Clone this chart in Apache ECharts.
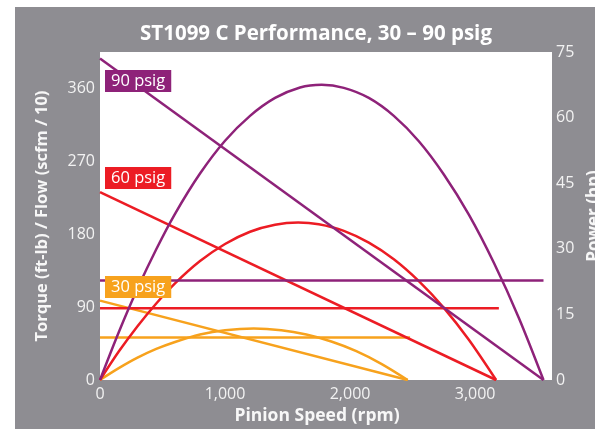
<!DOCTYPE html>
<html>
<head>
<meta charset="utf-8">
<script src="https://cdn.jsdelivr.net/npm/echarts@6/dist/echarts.min.js"></script>
<style>html,body{margin:0;padding:0;background:#fff;overflow:hidden;width:595px;height:429px}#c{width:595px;height:429px}</style>
</head>
<body>
<div id="c"></div>
<script>
// ---- data ----
const xTicks = [0, 1000, 2000, 3000];
const leftTicks = [0, 90, 180, 270, 360];
const rightTicks = [0, 15, 30, 45, 60, 75];

// torque lines (rpm, ft-lb)
const torque90Rpm = [0, 3547];
const torque90Val = [397, 0];
const torque60Rpm = [0, 3168];
const torque60Val = [232, 0];
const torque30Rpm = [0, 2461];
const torque30Val = [98, 0];

// flow lines (rpm, scfm/10)
const flow90Rpm = [0, 3547];
const flow90Val = [123, 123];
const flow60Rpm = [0, 3190];
const flow60Val = [88.5, 88.5];
const flow30Rpm = [0, 2480];
const flow30Val = [52.5, 52.5];

// power curves (rpm, hp)
const power90Rpm = [0, 150, 300, 450, 600, 800, 1000, 1200, 1400, 1600, 1773, 1950, 2150, 2350, 2550, 2750, 2950, 3150, 3350, 3547];
const power90Val = [0, 10.9, 20.9, 29.9, 38.0, 47.2, 54.7, 60.4, 64.5, 66.9, 67.5, 66.8, 64.5, 60.4, 54.6, 47.0, 37.8, 26.8, 14.2, 0];
const power60Rpm = [0, 150, 300, 450, 600, 800, 1000, 1200, 1400, 1585, 1750, 1950, 2150, 2350, 2550, 2750, 2950, 3168];
const power60Val = [0, 6.5, 12.3, 17.5, 22.1, 27.2, 31.1, 33.9, 35.5, 36.0, 35.6, 34.1, 31.4, 27.6, 22.6, 16.5, 9.2, 0];
const power30Rpm = [0, 150, 300, 450, 600, 800, 1000, 1230, 1450, 1650, 1850, 2050, 2250, 2461];
const power30Val = [0, 2.7, 5.1, 7.1, 8.7, 10.4, 11.4, 11.8, 11.4, 10.4, 8.8, 6.6, 3.7, 0];

const labels = ['90 psig', '60 psig', '30 psig'];
const PURPLE = '#8e2279', RED = '#ec1c24', ORANGE = '#f7a21d', GRAY = '#8e8d92';

const zip = (a, b) => a.map((v, i) => [v, b[i]]);
const line = (name, rpm, val, color, yIdx, smooth) => ({
  name, type: 'line', yAxisIndex: yIdx, data: zip(rpm, val), smooth: smooth ? 0.3 : false,
  showSymbol: false, symbol: 'none', lineStyle: { color, width: 2.5 }, z: 3, animation: false
});

const chart = echarts.init(document.getElementById('c'), null, { width: 595, height: 429 });
const tickFont = { color: '#f2f2f2', fontSize: 16, fontFamily: 'Open Sans' };
const nameFont = { color: '#f7f7f7', fontWeight: 'bold', fontFamily: 'Open Sans' };
const boxFont = '16.5px "Open Sans"';
const boxPad = [3, 6, 2, 6];

chart.setOption({
  animation: false,
  backgroundColor: '#fff',
  graphic: [
    { type: 'rect', left: 15, top: 7, shape: { width: 580, height: 422 }, style: { fill: GRAY }, z: -10 },
    { type: 'text', x: 316, y: 34, style: { text: 'ST1099 C Performance, 30 \u2013 90 psig', fill: '#fff', font: 'bold 20.5px "Open Sans"', align: 'center', verticalAlign: 'middle' }, z: 10 },
    { type: 'text', left: 105, top: 70, style: { text: labels[0], fill: '#fff', font: boxFont, backgroundColor: PURPLE, padding: boxPad }, z: 10 },
    { type: 'text', left: 105, top: 167, style: { text: labels[1], fill: '#fff', font: boxFont, backgroundColor: RED, padding: boxPad }, z: 10 },
    { type: 'text', left: 105, top: 276, style: { text: labels[2], fill: '#fff', font: boxFont, backgroundColor: ORANGE, padding: boxPad }, z: 10 }
  ],
  grid: { left: 100, top: 52, right: 43, bottom: 49, show: true, backgroundColor: '#fff', borderWidth: 0, outerBoundsMode: 'none', containLabel: false },
  xAxis: {
    type: 'value', min: 0, max: 3615, interval: 1000,
    name: 'Pinion Speed (rpm)', nameLocation: 'middle', nameGap: 27,
    nameTextStyle: Object.assign({ fontSize: 17.5, padding: [0, 18, 0, 0] }, nameFont),
    axisLine: { show: false }, axisTick: { show: false }, splitLine: { show: false },
    axisLabel: Object.assign({ margin: 6, formatter: v => xTicks.includes(v) ? v.toLocaleString('en-US') : '' }, tickFont)
  },
  yAxis: [
    {
      type: 'value', min: 0, max: 405, interval: 90,
      name: 'Torque (ft-lb) / Flow (scfm / 10)', nameLocation: 'middle', nameGap: 49, nameRotate: 90,
      nameTextStyle: Object.assign({ fontSize: 16.5 }, nameFont),
      axisLine: { show: false }, axisTick: { show: false }, splitLine: { show: false },
      axisLabel: Object.assign({ margin: 5, formatter: v => leftTicks.includes(v) ? String(v) : '' }, tickFont)
    },
    {
      type: 'value', min: 0, max: 75, interval: 15, position: 'right',
      name: 'Power (hp)', nameLocation: 'middle', nameGap: 27, nameRotate: 90,
      nameTextStyle: Object.assign({ fontSize: 17 }, nameFont),
      axisLine: { show: false }, axisTick: { show: false }, splitLine: { show: false },
      axisLabel: Object.assign({ margin: 4, formatter: v => rightTicks.includes(v) ? String(v) : '' }, tickFont)
    }
  ],
  series: [
    line('flow30', flow30Rpm, flow30Val, ORANGE, 0),
    line('torque30', torque30Rpm, torque30Val, ORANGE, 0),
    line('power30', power30Rpm, power30Val, ORANGE, 1, true),
    line('flow60', flow60Rpm, flow60Val, RED, 0),
    line('torque60', torque60Rpm, torque60Val, RED, 0),
    line('power60', power60Rpm, power60Val, RED, 1, true),
    line('flow90', flow90Rpm, flow90Val, PURPLE, 0),
    line('torque90', torque90Rpm, torque90Val, PURPLE, 0),
    line('power90', power90Rpm, power90Val, PURPLE, 1, true)
  ]
});
</script>
</body>
</html>
